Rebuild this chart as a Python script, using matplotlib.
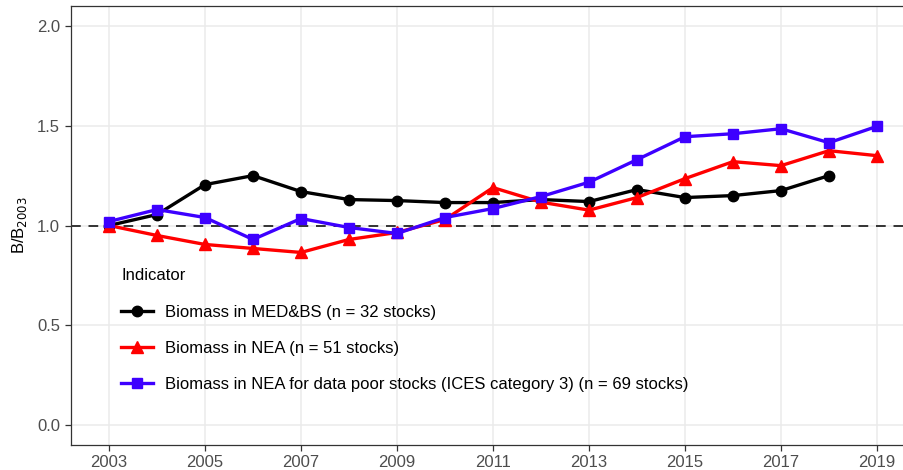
import matplotlib
matplotlib.use("Agg")
import matplotlib.pyplot as plt

plt.rcParams['font.family'] = ['Liberation Sans', 'DejaVu Sans']

years_med = list(range(2003, 2019))
med_bs = [1.00, 1.055, 1.205, 1.25, 1.17, 1.13, 1.125, 1.115, 1.115, 1.13,
          1.12, 1.18, 1.14, 1.15, 1.175, 1.25]

years_nea = list(range(2003, 2020))
nea = [1.00, 0.95, 0.905, 0.885, 0.865, 0.93, 0.965, 1.03, 1.19, 1.117,
       1.077, 1.14, 1.235, 1.32, 1.30, 1.375, 1.35]
nea_poor = [1.02, 1.08, 1.04, 0.93, 1.035, 0.99, 0.96, 1.04, 1.085, 1.145,
            1.217, 1.33, 1.445, 1.46, 1.485, 1.415, 1.497]

labels = ["Biomass in MED&BS (n = 32 stocks)",
          "Biomass in NEA (n = 51 stocks)",
          "Biomass in NEA for data poor stocks (ICES category 3) (n = 69 stocks)"]

fig = plt.figure(figsize=(9.04, 4.70), dpi=100)
ax = fig.add_axes([0.0781, 0.0532, 0.9345, 0.934])

ax.axhline(1.0, color='#333333', lw=1.4, ls=(0, (5, 4)), zorder=2)

ax.plot(years_med, med_bs, color='black', lw=2.4, marker='o', ms=7.5,
        label=labels[0], zorder=3)
ax.plot(years_nea, nea, color='#ff0000', lw=2.4, marker='^', ms=8.5,
        label=labels[1], zorder=3)
ax.plot(years_nea, nea_poor, color='#3d00ff', lw=2.4, marker='s', ms=7.5,
        label=labels[2], zorder=3)

ax.set_xlim(2002.2, 2019.8)
ax.set_ylim(-0.1, 2.1)
ax.set_xticks(range(2003, 2020, 2))
ax.set_yticks([0.0, 0.5, 1.0, 1.5, 2.0])
ax.set_yticklabels(["0.0", "0.5", "1.0", "1.5", "2.0"])

ax.grid(True, color='#ebebeb', lw=1.1)
ax.set_axisbelow(True)
for s in ax.spines.values():
    s.set_color('#333333')
    s.set_linewidth(0.9)
ax.spines['right'].set_visible(False)

ax.tick_params(axis='both', colors='#333333', labelcolor='#4d4d4d',
               labelsize=12, length=4, width=0.9)
ax.set_ylabel("B/B$_{2003}$", fontsize=12, color='black', labelpad=6)

leg = ax.legend(loc='upper left', bbox_to_anchor=(0.052, 0.418), frameon=False,
                title="Indicator", fontsize=12.0, title_fontsize=12,
                handlelength=1.9, labelspacing=1.28, handletextpad=0.75,
                borderaxespad=0)
leg._legend_box.align = "left"

fig.savefig("out.png", dpi=100)
